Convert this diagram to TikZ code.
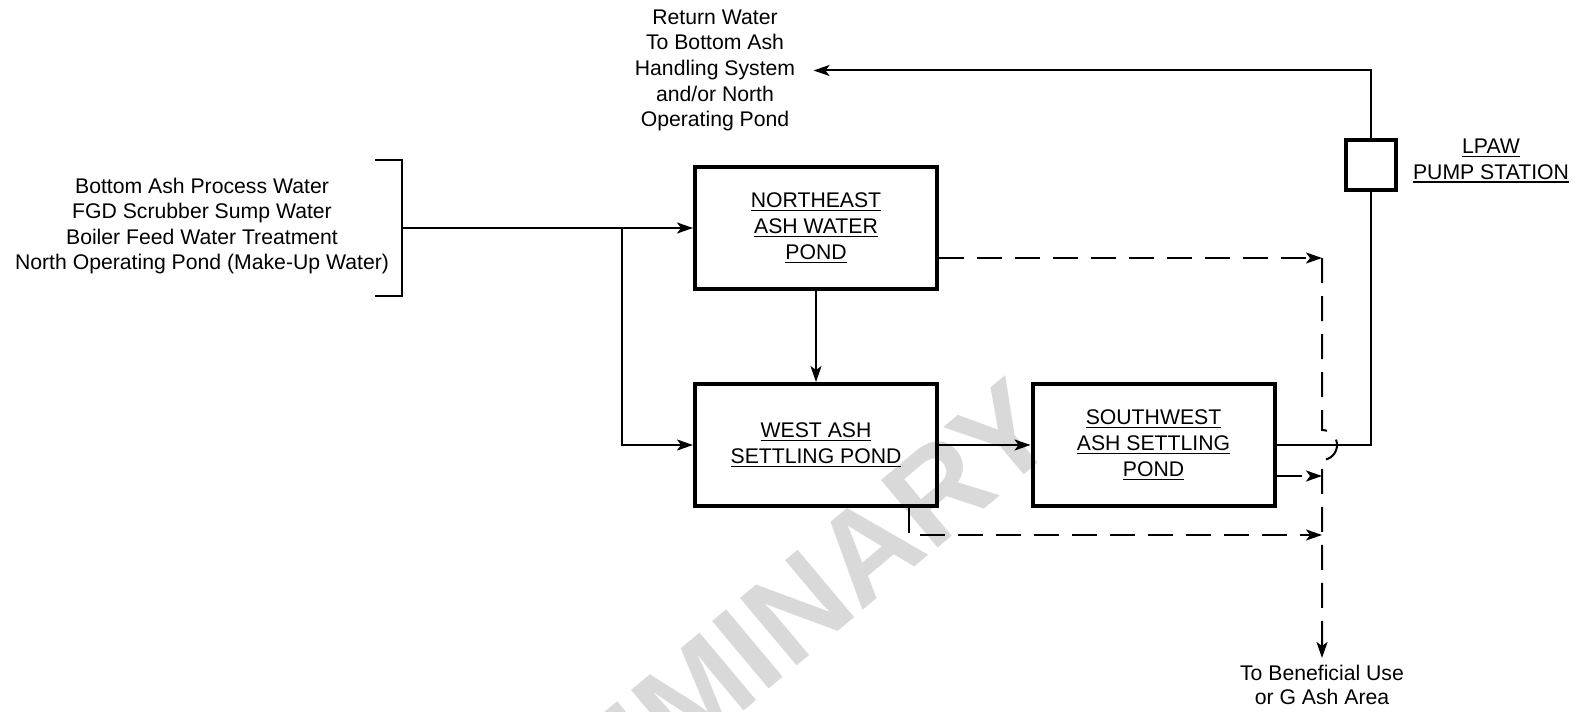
\documentclass[tikz,border=0pt]{standalone}
\usepackage{fontspec}
\setmainfont{Liberation Sans}
\usetikzlibrary{arrows.meta,calc}
\newcommand\ulx[1]{\setbox0\hbox{#1}\rlap{\rule[-2pt]{\wd0}{0.9pt}}\box0}
\begin{document}
\begin{tikzpicture}[x=0.5pt,y=-0.5pt,
  every node/.style={font=\fontsize{10.6}{12.8}\selectfont, inner sep=0pt},
  pond/.style={draw, line width=2pt, minimum width=121pt, minimum height=61pt, align=center, font=\fontsize{10.6}{13}\selectfont},
  flow/.style={line width=1pt},
  arr/.style={-{Stealth[length=8pt,width=5.5pt,inset=2pt]}},
  dashflow/.style={line width=1pt, dash pattern=on 12.5pt off 6.5pt},
  wmark/.style={text=black!15, font=\fontsize{64}{64}\selectfont\bfseries, rotate=40}
]
\useasboundingbox (0,0) rectangle (1577,711);
% watermark
\begin{scope}
\clip (0,0) rectangle (1577,711);
\node[wmark] (wm) at (700,690) {PRELIMINARY};
\end{scope}
% ponds
\node[pond] (ne) at (816,228) {\ulx{NORTHEAST}\\\ulx{ASH WATER}\\\ulx{POND}};
\node[pond] (west) at (816,445) {\ulx{WEST ASH}\\\ulx{SETTLING POND}};
\node[pond] (sw) at (1153.5,445) {\ulx{SOUTHWEST}\\\ulx{ASH SETTLING}\\\ulx{POND}};
\node[draw, line width=2pt, minimum size=25pt] (pump) at (1370.5,165.5) {};
\node[align=center] (pumplbl) at (1491,161) {\ulx{LPAW}\\\ulx{PUMP STATION}};
% texts
\node[align=center] (src) at (202,226) {Bottom Ash Process Water\\FGD Scrubber Sump Water\\Boiler Feed Water Treatment\\North Operating Pond (Make-Up Water)};
\node[align=center] (ret) at (715,70.5) {Return Water\\To Bottom Ash\\Handling System\\and/or North\\Operating Pond};
\node[align=center, font=\fontsize{10.6}{12}\selectfont] (dest) at (1322,685) {To Beneficial Use\\or G Ash Area};
% bracket
\coordinate (brm) at (402,228);
\draw[flow] (375,160) -- (402,160) -- (402,296) -- (375,296);
\coordinate (j1) at (622,228);
\draw[flow, arr] (brm) -- (ne.west);
\draw[flow, arr] (j1) |- (west.west);
\draw[flow, arr] (ne.south) -- (west.north);
\draw[flow, arr] (west.east) -- (sw.west);
% return line
\coordinate (pj) at (1370.5,445);
\draw[flow] (sw.east) -- (pj) -- (pump.south);
\draw[flow, arr] (pump.north) |- ([xshift=9pt]ret.east);
% dashed overflow lines
\coordinate (dv) at (1322,258);
\coordinate (dvb) at (1322,658);
\draw[dashflow, arr] ($(ne.east)+(0,30)$) -- (dv);
\coordinate (swd) at ($(sw.east)+(0,31)$);
\draw[dashflow, arr] (swd) -- (dv |- swd);
\coordinate (wd) at ($(west.south east)+(-30,0)$);
\coordinate (wd2) at (1322,535);
\draw[dashflow, arr] (wd) |- (wd2);
\draw[dashflow, arr] (dv) -- (1322,430) arc[start angle=90, end angle=-90, radius=7.5pt] -- (dvb);
\end{tikzpicture}
\end{document}
